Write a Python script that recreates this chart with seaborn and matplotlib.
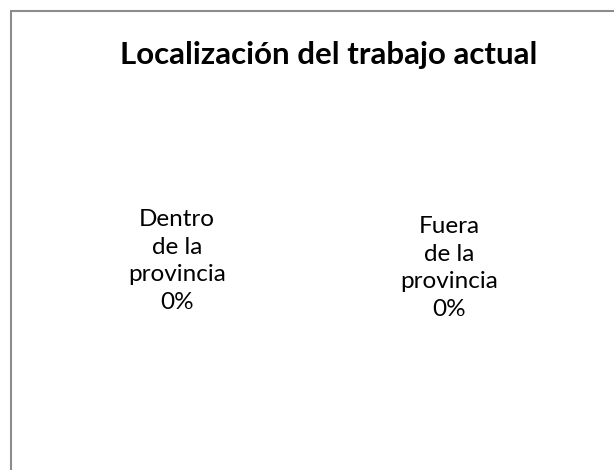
import matplotlib
matplotlib.use("Agg")
import matplotlib.pyplot as plt
import seaborn as sns
from matplotlib.patches import Rectangle

sns.set_theme(style="white")
plt.rcParams['font.family'] = ['Lato', 'DejaVu Sans']

# datos del gráfico (todos los valores son cero, por eso no se ven sectores)
titulo = "Localización del trabajo actual"
categorias = ["Dentro\nde la\nprovincia", "Fuera\nde la\nprovincia"]
valores = [0, 0]

fig = plt.figure(figsize=(6.14, 4.70), dpi=100)
fig.patch.set_facecolor("white")

# borde del área del gráfico (se sale por la derecha y por abajo)
fig.patches.append(Rectangle((10.5 / 614, -0.1), 1.2, 1 - 11.5 / 470 + 0.1,
                             transform=fig.transFigure, fill=False,
                             edgecolor="#8c8c8c", linewidth=1.5))

ax = fig.add_axes([0, 0, 1, 1])
ax.set_xlim(0, 614)
ax.set_ylim(470, 0)
ax.axis("off")

ax.text(329, 55, titulo, ha="center", va="center", fontsize=22.5,
        fontweight="bold", color="black")

total = sum(valores)
posiciones = [(177, 261), (449, 268)]
for cat, val, (x, y) in zip(categorias, valores, posiciones):
    pct = 0 if total == 0 else val / total * 100
    ax.text(x, y, f"{cat}\n{pct:.0f}%", ha="center", va="center",
            fontsize=17.5, linespacing=1.4, color="black")

fig.savefig("out.png", dpi=100)
